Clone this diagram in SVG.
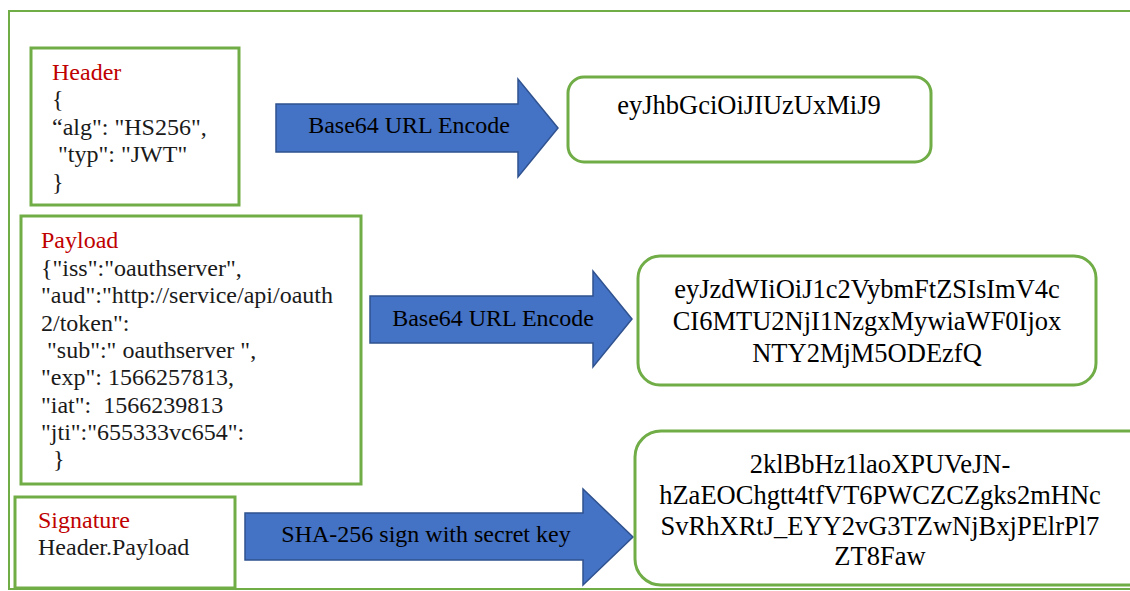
<svg xmlns="http://www.w3.org/2000/svg" width="1130" height="591" viewBox="0 0 1130 591">
<style>
.frame{fill:none;stroke:#70AD47;stroke-width:2}
.box{fill:#fff;stroke:#70AD47;stroke-width:3}
.arrow{fill:#4472C4;stroke:#2F528F;stroke-width:1.5}
text{font-family:"Liberation Serif","Times New Roman",serif;fill:#1a1a1a}
.t{font-size:24px}
.red{fill:#C00000}
.lbl{font-size:24px;text-anchor:middle;fill:#000}
.tok{font-size:26.5px;text-anchor:middle;fill:#000}
</style>
<rect class="frame" x="9" y="11" width="1130" height="578"/>
<g id="header">
<rect class="box" x="31" y="48" width="208" height="157"/>
<text class="t red" x="52" y="80">Header</text>
<text class="t" x="52" y="107">{</text>
<text class="t" x="52" y="135">“alg": "HS256",</text>
<text class="t" x="52" y="162" xml:space="preserve"> "typ": "JWT"</text>
<text class="t" x="52" y="190">}</text>
</g>
<g id="payload">
<rect class="box" x="21" y="216" width="340" height="268"/>
<text class="t red" x="41" y="248">Payload</text>
<text class="t" x="41" y="276">{"iss":"oauthserver",</text>
<text class="t" x="41" y="303">"aud":"http://service/api/oauth</text>
<text class="t" x="41" y="331">2/token":</text>
<text class="t" x="41" y="358" xml:space="preserve"> "sub":" oauthserver ",</text>
<text class="t" x="41" y="385">"exp": 1566257813,</text>
<text class="t" x="41" y="413" xml:space="preserve">"iat":  1566239813</text>
<text class="t" x="41" y="440">"jti":"655333vc654":</text>
<text class="t" x="41" y="467" xml:space="preserve">  }</text>
</g>
<g id="signature">
<rect class="box" x="15" y="497" width="220" height="91"/>
<text class="t red" x="38" y="528">Signature</text>
<text class="t" x="38" y="555">Header.Payload</text>
</g>
<g id="connectors">
<path class="arrow" d="M276,104 H518 V79 L558,128 L518,177 V152 H276 Z"/>
<text class="lbl" x="409" y="133">Base64 URL Encode</text>
<path class="arrow" d="M370,296 H593 V271 L632,319 L593,367 V343 H370 Z"/>
<text class="lbl" x="493" y="326">Base64 URL Encode</text>
<path class="arrow" d="M245,513 H583 V489 L633,537 L583,585 V560 H245 Z"/>
<text class="lbl" x="426" y="542">SHA-256 sign with secret key</text>
</g>
<g id="token-header">
<rect class="box" x="568" y="77" width="363" height="85" rx="16"/>
<text class="tok" x="749" y="114">eyJhbGciOiJIUzUxMiJ9</text>
</g>
<g id="token-payload">
<rect class="box" x="638" y="256" width="458" height="129" rx="22"/>
<text class="tok" x="867" y="298">eyJzdWIiOiJ1c2VybmFtZSIsImV4c</text>
<text class="tok" x="867" y="330">CI6MTU2NjI1NzgxMywiaWF0Ijox</text>
<text class="tok" x="867" y="362">NTY2MjM5ODEzfQ</text>
</g>
<g id="token-signature">
<rect class="box" x="635" y="431" width="520" height="154" rx="26"/>
<text class="tok" x="880" y="473">2klBbHz1laoXPUVeJN-</text>
<text class="tok" x="880" y="504">hZaEOChgtt4tfVT6PWCZCZgks2mHNc</text>
<text class="tok" x="880" y="535">SvRhXRtJ_EYY2vG3TZwNjBxjPElrPl7</text>
<text class="tok" x="880" y="565">ZT8Faw</text>
</g>
</svg>
